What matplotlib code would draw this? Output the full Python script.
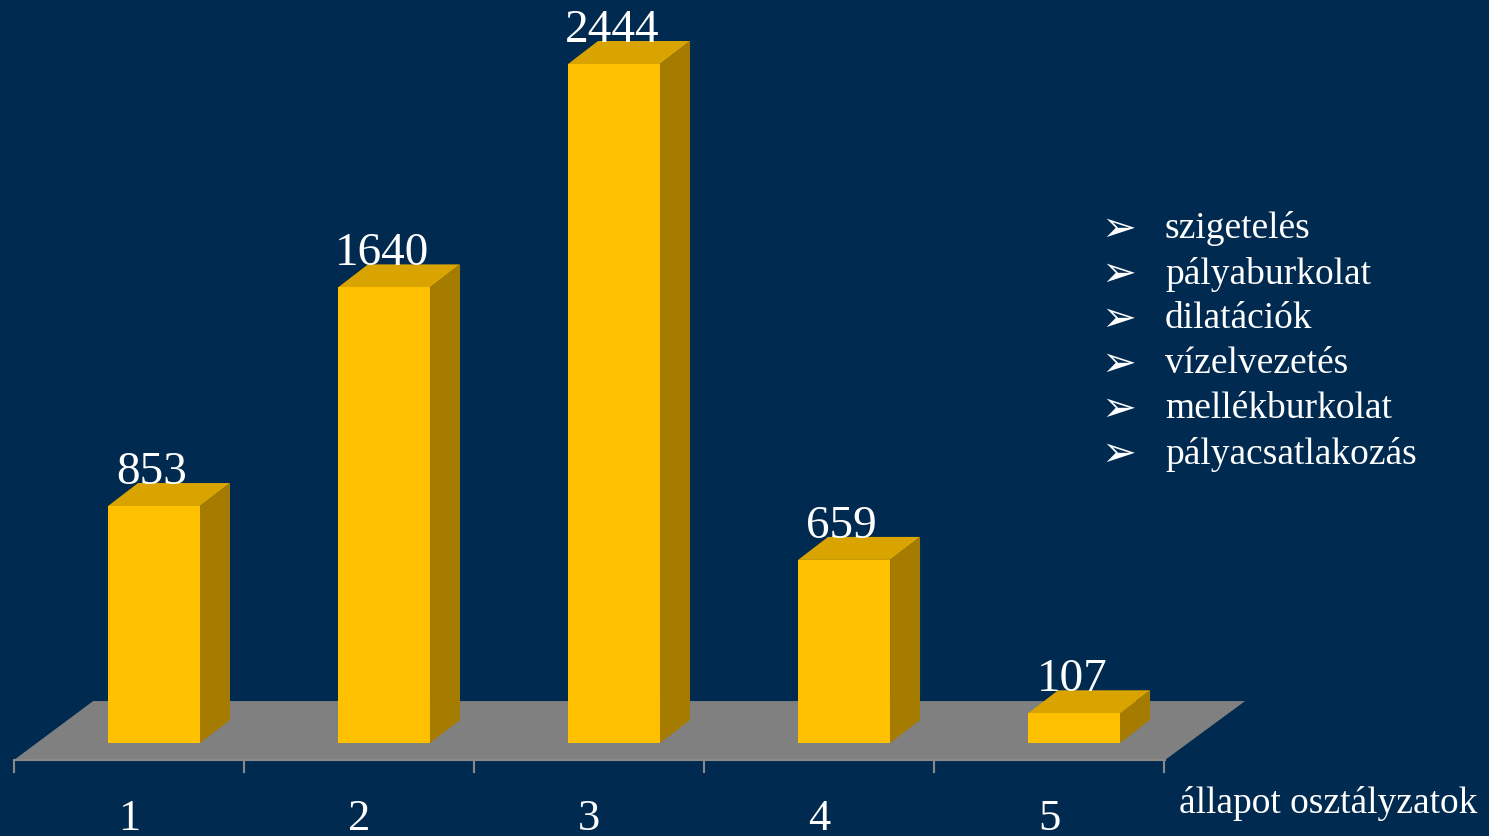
import matplotlib
matplotlib.use("Agg")
import matplotlib.pyplot as plt
from matplotlib.patches import Polygon, Rectangle

# chart data
categories = ["1", "2", "3", "4", "5"]
values = [853, 1640, 2444, 659, 107]
legend_items = ["szigetelés", "pályaburkolat", "dilatációk",
                "vízelvezetés", "mellékburkolat", "pályacsatlakozás"]
axis_label = "állapot osztályzatok"

bg = "#002a50"
front_col = "#ffc000"
top_col = "#d9a300"
side_col = "#a67c00"
floor_col = "#808080"

plt.rcParams["font.family"] = ["Liberation Serif", "DejaVu Serif"]

fig = plt.figure(figsize=(14.89, 8.36), dpi=100)
fig.patch.set_facecolor(bg)
ax = fig.add_axes([0, 0, 1, 1])
ax.set_facecolor(bg)
ax.axis("off")

# data limits chosen so category spacing / value scale fit the frame
ax.set_xlim(0.3304, 6.804)
ax.set_ylim(-334.7, 2674.4)

bw = 0.4      # bar width in category units
dx = 0.1304   # depth offset (x)
dy = 82.8     # depth offset (y)

# floor
x0, x1 = 0.3913, 5.3957
floor = Polygon([(x0, -61), (x1, -61), (x1 + 0.348, 151), (x0 + 0.344, 151)],
                closed=True, facecolor=floor_col, edgecolor="none", zorder=1)
ax.add_patch(floor)

# axis line + ticks
ax.plot([x0, x1], [-61, -61], color="#8a8a8a", lw=1.5, zorder=2)
for k in range(len(categories) + 1):
    ax.plot([x0 + k, x0 + k], [-61, -105], color="#8a8a8a", lw=1.5, zorder=2)

for i, (cat, v) in enumerate(zip(categories, values)):
    c = i + 1
    l, r = c - bw / 2, c + bw / 2
    ax.add_patch(Polygon([(r, 0), (r + dx, dy), (r + dx, v + dy), (r, v)],
                         closed=True, facecolor=side_col, edgecolor="none", zorder=3))
    ax.add_patch(Polygon([(l, v), (r, v), (r + dx, v + dy), (l + dx, v + dy)],
                         closed=True, facecolor=top_col, edgecolor="none", zorder=3))
    ax.add_patch(Rectangle((l, 0), bw, v, facecolor=front_col,
                           edgecolor="none", zorder=4))
    ax.text(c - 0.01, v + dy - 4, str(v), ha="center", va="baseline",
            fontsize=34, color="white", zorder=5)
    ax.text(x0 + i + 0.5, -272, cat, ha="center", va="center",
            fontsize=32, color="white")

ax.text(5.4565, -218, axis_label, ha="left", va="center",
        fontsize=27, color="white")

# legend with arrow bullets
for j, item in enumerate(legend_items):
    yy = 1 - (229 + 45 * j) / 836
    fig.text(1119 / 1489, yy, "\u27a2", ha="center", va="center",
             fontsize=30, color="white", family="DejaVu Sans")
    fig.text(1165 / 1489, yy, item, ha="left", va="center",
             fontsize=27, color="white")

fig.savefig("out.png", dpi=100, facecolor=bg)
